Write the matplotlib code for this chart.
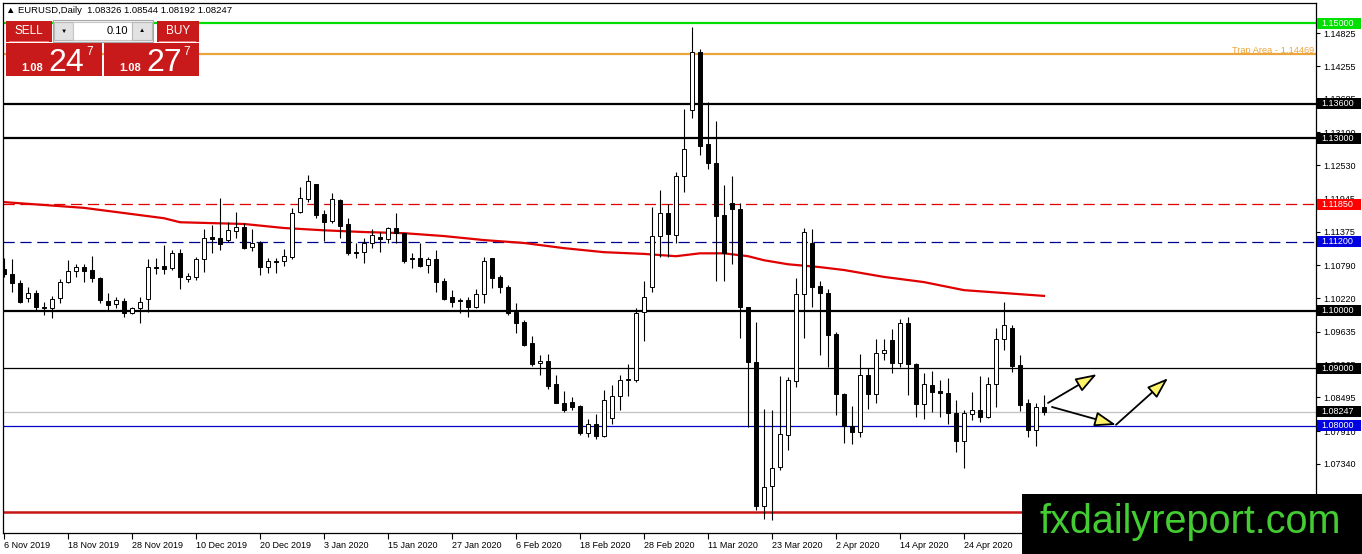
import numpy as np
import pandas as pd
import matplotlib
matplotlib.use("Agg")
import matplotlib.pyplot as plt
import matplotlib.transforms as mtransforms
from matplotlib.patches import Rectangle

plt.rcParams['font.family'] = ['Liberation Sans', 'DejaVu Sans']

W, H = 1362, 554

# -----------------------------
# Daily bars (broker has no bar on 25 Dec / 1 Jan)
# -----------------------------
dates = pd.bdate_range("2019-11-06", "2020-05-08")
dates = dates[~dates.isin(pd.to_datetime(["2019-12-25", "2020-01-01"]))]

opens = [1.1073, 1.1064, 1.1048, 1.1022, 1.1031, 1.1007, 1.1005, 1.1022, 1.1050, 1.1069,
         1.1076, 1.1071, 1.1057, 1.1017, 1.1012, 1.1017, 1.0996, 1.1005, 1.1021, 1.1076,
         1.1078, 1.1074, 1.1100, 1.1055, 1.1059, 1.1090, 1.1128, 1.1127, 1.1123, 1.1139,
         1.1146, 1.1111, 1.1118, 1.1076, 1.1087, 1.1087, 1.1094, 1.1172, 1.1194, 1.1220,
         1.1168, 1.1156, 1.1193, 1.1151, 1.1102, 1.1102, 1.1118, 1.1128, 1.1125, 1.1144,
         1.1135, 1.1092, 1.1092, 1.1080, 1.1090, 1.1052, 1.1024, 1.1019, 1.1019, 1.1007,
         1.1029, 1.1092, 1.1059, 1.1042, 1.0998, 1.0981, 1.0944, 1.0910, 1.0913, 1.0873,
         1.0840, 1.0842, 1.0835, 1.0788, 1.0804, 1.0783, 1.0814, 1.0852, 1.0880, 1.0880,
         1.0998, 1.1042, 1.1130, 1.1170, 1.1132, 1.1234, 1.1349, 1.1450, 1.1290, 1.1257,
         1.1167, 1.1187, 1.1177, 1.1007, 1.0911, 1.0661, 1.0696, 1.0729, 1.0784, 1.0878,
         1.1029, 1.1118, 1.1043, 1.1031, 1.0960, 1.0856, 1.0800, 1.0790, 1.0889, 1.0856,
         1.0927, 1.0949, 1.0910, 1.0979, 1.0908, 1.0838, 1.0871, 1.0861, 1.0857, 1.0823,
         1.0774, 1.0821, 1.0828, 1.0816, 1.0873, 1.0951, 1.0970, 1.0906, 1.0840, 1.0793,
         1.08326]
highs = [1.1092, 1.1090, 1.1054, 1.1042, 1.1036, 1.1015, 1.1026, 1.1055, 1.1088, 1.1081,
         1.1081, 1.1095, 1.1059, 1.1031, 1.1024, 1.1022, 1.1007, 1.1024, 1.1090, 1.1092,
         1.1114, 1.1106, 1.1107, 1.1066, 1.1094, 1.1142, 1.1149, 1.1196, 1.1154, 1.1172,
         1.1153, 1.1142, 1.1121, 1.1092, 1.1092, 1.1107, 1.1179, 1.1215, 1.1236, 1.1220,
         1.1175, 1.1205, 1.1194, 1.1161, 1.1118, 1.1127, 1.1142, 1.1137, 1.1146, 1.1170,
         1.1135, 1.1100, 1.1118, 1.1094, 1.1106, 1.1057, 1.1036, 1.1022, 1.1024, 1.1038,
         1.1094, 1.1092, 1.1062, 1.1045, 1.1014, 1.0984, 1.0956, 1.0923, 1.0925, 1.0889,
         1.0861, 1.0850, 1.0837, 1.0812, 1.0821, 1.0863, 1.0871, 1.0889, 1.0908, 1.1005,
         1.1052, 1.1180, 1.1210, 1.1186, 1.1241, 1.1351, 1.1493, 1.1455, 1.1363, 1.1330,
         1.1219, 1.1234, 1.1187, 1.1007, 1.0981, 1.0830, 1.0828, 1.0887, 1.0885, 1.1057,
         1.1144, 1.1142, 1.1052, 1.1038, 1.0963, 1.0857, 1.0835, 1.0925, 1.0901, 1.0951,
         1.0951, 1.0969, 1.0986, 1.0989, 1.0910, 1.0892, 1.0896, 1.0880, 1.0883, 1.0845,
         1.0828, 1.0859, 1.0887, 1.0885, 1.0970, 1.1015, 1.0975, 1.0923, 1.0847, 1.0840,
         1.08544]
lows = [1.1059, 1.1033, 1.1014, 1.1015, 1.1000, 1.0993, 1.0988, 1.1014, 1.1048, 1.1059,
        1.1050, 1.1050, 1.1014, 1.1000, 1.1005, 1.0989, 1.0995, 1.0979, 1.0998, 1.1064,
        1.1064, 1.1071, 1.1038, 1.1050, 1.1054, 1.1068, 1.1100, 1.1106, 1.1120, 1.1127,
        1.1107, 1.1104, 1.1062, 1.1066, 1.1066, 1.1078, 1.1090, 1.1170, 1.1189, 1.1161,
        1.1121, 1.1153, 1.1127, 1.1097, 1.1092, 1.1083, 1.1109, 1.1102, 1.1118, 1.1118,
        1.1083, 1.1074, 1.1076, 1.1066, 1.1033, 1.1019, 1.1007, 1.0996, 1.0989, 1.1005,
        1.1014, 1.1040, 1.1031, 1.0993, 1.0962, 1.0939, 1.0904, 1.0889, 1.0864, 1.0840,
        1.0824, 1.0828, 1.0784, 1.0781, 1.0777, 1.0781, 1.0804, 1.0828, 1.0852, 1.0876,
        1.0948, 1.1033, 1.1094, 1.1094, 1.1118, 1.1206, 1.1335, 1.1271, 1.1246, 1.1052,
        1.1052, 1.1081, 1.0953, 1.0798, 1.0654, 1.0639, 1.0637, 1.0724, 1.0758, 1.0868,
        1.0953, 1.1007, 1.0923, 1.0903, 1.0819, 1.0771, 1.0769, 1.0781, 1.0830, 1.0840,
        1.0915, 1.0892, 1.0903, 1.0854, 1.0816, 1.0812, 1.0824, 1.0816, 1.0804, 1.0755,
        1.0727, 1.0810, 1.0807, 1.0814, 1.0833, 1.0932, 1.0894, 1.0826, 1.0781, 1.0765,
        1.08192]
closes = [1.1064, 1.1048, 1.1015, 1.1031, 1.1007, 1.1005, 1.1021, 1.1050, 1.1069, 1.1076,
          1.1069, 1.1057, 1.1019, 1.1010, 1.1019, 1.0996, 1.1005, 1.1015, 1.1076, 1.1074,
          1.1073, 1.1100, 1.1059, 1.1061, 1.1090, 1.1127, 1.1125, 1.1116, 1.1141, 1.1146,
          1.1109, 1.1118, 1.1076, 1.1087, 1.1085, 1.1095, 1.1170, 1.1196, 1.1226, 1.1167,
          1.1154, 1.1194, 1.1147, 1.1100, 1.1101, 1.1118, 1.1132, 1.1125, 1.1144, 1.1135,
          1.1087, 1.1090, 1.1078, 1.1090, 1.1050, 1.1021, 1.1015, 1.1017, 1.1007, 1.1029,
          1.1087, 1.1057, 1.1042, 1.0996, 1.0979, 1.0941, 1.0908, 1.0913, 1.0870, 1.0840,
          1.0828, 1.0833, 1.0788, 1.0804, 1.0783, 1.0845, 1.0852, 1.0880, 1.0882, 1.0996,
          1.1024, 1.1130, 1.1170, 1.1133, 1.1234, 1.1281, 1.1450, 1.1286, 1.1257, 1.1165,
          1.1100, 1.1177, 1.1007, 1.0911, 1.0661, 1.0694, 1.0727, 1.0786, 1.0880, 1.1029,
          1.1137, 1.1042, 1.1031, 1.0958, 1.0856, 1.0800, 1.0790, 1.0889, 1.0856, 1.0927,
          1.0932, 1.0910, 1.0979, 1.0908, 1.0838, 1.0873, 1.0859, 1.0857, 1.0823, 1.0774,
          1.0823, 1.0828, 1.0816, 1.0873, 1.0951, 1.0975, 1.0904, 1.0837, 1.0793, 1.0833,
          1.08247]

# moving average read at a few bars
ma_idx = [0, 10, 20, 22, 30, 35, 40, 45, 50, 55, 60, 65, 70, 75, 80, 84, 87, 90,
          93, 95, 98, 102, 105, 110, 115, 120, 125, 130]
ma_vals = [1.1189, 1.1179, 1.1161, 1.1154, 1.1151, 1.1144, 1.1140, 1.1137, 1.1135,
           1.1130, 1.1123, 1.1118, 1.1109, 1.1102, 1.1099, 1.1095, 1.1100, 1.1100,
           1.1095, 1.1088, 1.1081, 1.1076, 1.1071, 1.1059, 1.1050, 1.1036, 1.1031, 1.1026]

# horizontal levels
level_prices = [1.1500, 1.14469, 1.1360, 1.1300, 1.1185, 1.1120, 1.1000, 1.0900,
                1.08247, 1.0800, 1.0650]
level_colors = ['#00dd00', '#eba53c', 'black', 'black', '#e00000', '#000090', 'black',
                'black', '#c0c0c0', '#0000c8', '#c81414']
level_widths = [1.6, 1.6, 1.6, 1.6, 0.9, 0.9, 1.6, 0.9, 0.9, 0.9, 1.8]
level_dashed = [False, False, False, False, True, True, False, False, False, False, False]

# price labels on the right scale
label_prices = [1.1500, 1.1360, 1.1300, 1.1185, 1.1120, 1.1000, 1.0900, 1.08247, 1.0800]
label_colors = ['#00e000', 'black', 'black', '#ff0000', '#0000e0', 'black', 'black',
                'black', '#0000e0']

yticks = [1.14825, 1.14255, 1.13685, 1.13100, 1.12530, 1.11945, 1.11375, 1.10790,
          1.10220, 1.09635, 1.09065, 1.08495, 1.07910, 1.07340, 1.06770]

# drawn arrows: (start bar, start price, end bar, end price)
arrows = [(130.5, 1.0840, 136.6, 1.0890),
          (131.0, 1.0833, 139.0, 1.0802),
          (139.0, 1.0802, 145.5, 1.0883)]

# -----------------------------
# Figure
# -----------------------------
fig = plt.figure(figsize=(W / 100, H / 100), dpi=100)
ax = fig.add_axes([3 / W, 1 - 533 / H, (1316 - 3) / W, (533 - 3) / H])
ax.set_xlim(-0.125, 164)
ax.set_ylim(1.0614, 1.1535)
px_price = (1.1535 - 1.0614) / 530  # price per pixel
ax_w = 1313.0

o = np.array(opens)
h = np.array(highs)
l = np.array(lows)
c = np.array(closes)
x = np.arange(len(o))
up = c >= o

for p, col, lw, dsh in zip(level_prices, level_colors, level_widths, level_dashed):
    if dsh:
        ax.axhline(p, color=col, lw=lw, dashes=(9, 4.5), zorder=1)
    else:
        ax.axhline(p, color=col, lw=lw, zorder=1)

ax.plot(ma_idx, ma_vals, color='#e00000', lw=1.6, zorder=2)

ax.vlines(x, l, h, color='black', lw=0.8, zorder=3)
ax.bar(x, np.abs(c - o), bottom=np.minimum(o, c), width=0.62,
       color=np.where(up, 'white', 'black'), edgecolor='black', linewidth=0.7, zorder=4)

for x0, y0, x1, y1 in arrows:
    ax.annotate('', xy=(x1, y1), xytext=(x0, y0),
                arrowprops=dict(arrowstyle='-|>,head_length=1.3,head_width=0.45',
                                mutation_scale=10, fc='#fff36a', ec='black', lw=1.3,
                                shrinkA=0, shrinkB=0), zorder=5)

ax.text(1 - 2 / ax_w, 1.14469 + 0.0002, 'Trap Area - 1.14469', transform=ax.get_yaxis_transform(),
        ha='right', va='baseline', color='#eba53c', fontsize=6.7)

# right price scale
ax.yaxis.tick_right()
ax.set_yticks(yticks)
ax.set_yticklabels([f"{v:.5f}" for v in yticks])
ax.tick_params(axis='y', direction='out', length=3, width=0.8, pad=2, labelsize=6.5)

trans = mtransforms.blended_transform_factory(ax.transAxes, ax.transData)
for p, col in zip(label_prices, label_colors):
    ax.add_patch(Rectangle((1 + 1 / ax_w, p - 5.5 * px_price), 44 / ax_w, 11 * px_price,
                           transform=trans, fc=col, ec='none', clip_on=False, zorder=6))
    ax.text(1 + 5 / ax_w, p, f"{p:.5f}", transform=trans, ha='left', va='center',
            fontsize=6.5, color='white', clip_on=False, zorder=7)

# time scale
tick_pos = list(range(0, len(dates), 8))
ax.set_xticks(tick_pos)
ax.set_xticklabels([f"{dates[i].day} {dates[i].strftime('%b %Y')}" for i in tick_pos],
                   ha='left')
ax.tick_params(axis='x', direction='out', length=4, width=0.8, pad=1.5, labelsize=6.5)

for s in ax.spines.values():
    s.set_linewidth(0.9)
    s.set_color('black')


# -----------------------------
# One-click trading panel and header
# -----------------------------
def box(x0, y0, x1, y1, fc, ec='none', lw=0.8, z=10):
    fig.add_artist(Rectangle((x0 / W, 1 - y1 / H), (x1 - x0) / W, (y1 - y0) / H,
                             transform=fig.transFigure, fc=fc, ec=ec, lw=lw, zorder=z))


def ftext(px, py, s, **kw):
    fig.text(px / W, 1 - py / H, s, zorder=12, **kw)


red = '#c81a1a'
box(6, 21, 52, 42, red)
box(157, 21, 199, 42, red)
box(6, 43, 102, 76, red)
box(104, 43, 199, 76, red)
box(53, 20, 153, 42, '#f2f2f2', ec='#a8a8a8')
box(54, 22, 73, 40, '#e2e2e2', ec='#b8b8b8')
box(73, 22, 132, 40, 'white', ec='#c8c8c8')
box(132, 22, 152, 40, '#e2e2e2', ec='#b8b8b8')
box(9, 41, 49, 42, '#ee7070', z=11)
box(159, 41, 196, 42, '#ee7070', z=11)

ftext(29, 31, 'SELL', color='white', fontsize=8.5, ha='center', va='center')
ftext(178, 31, 'BUY', color='white', fontsize=8.5, ha='center', va='center')
ftext(128, 31, '0.10', color='black', fontsize=8, ha='right', va='center')
ftext(63.5, 31, '▼', color='black', fontsize=4.5, ha='center', va='center')
ftext(142, 31, '▲', color='black', fontsize=4.5, ha='center', va='center')

ftext(21, 71, '1.08', color='white', fontsize=8, fontweight='bold', ha='left', va='baseline')
ftext(48, 71, '24', color='white', fontsize=23, ha='left', va='baseline')
ftext(86, 55, '7', color='white', fontsize=8.5, ha='left', va='baseline')
ftext(119, 71, '1.08', color='white', fontsize=8, fontweight='bold', ha='left', va='baseline')
ftext(146, 71, '27', color='white', fontsize=23, ha='left', va='baseline')
ftext(183, 55, '7', color='white', fontsize=8.5, ha='left', va='baseline')

ftext(6, 10.5, '▲ EURUSD,Daily  1.08326 1.08544 1.08192 1.08247', color='black',
      fontsize=6.8, ha='left', va='center')

# watermark
box(1022, 494, W, H, 'black', z=13)
fig.text(1190 / W, 1 - 533 / H, 'fxdailyreport.com', color='#44cc33', fontsize=28.5,
         ha='center', va='baseline', zorder=14)

fig.savefig('out.png', dpi=100, facecolor='white')
